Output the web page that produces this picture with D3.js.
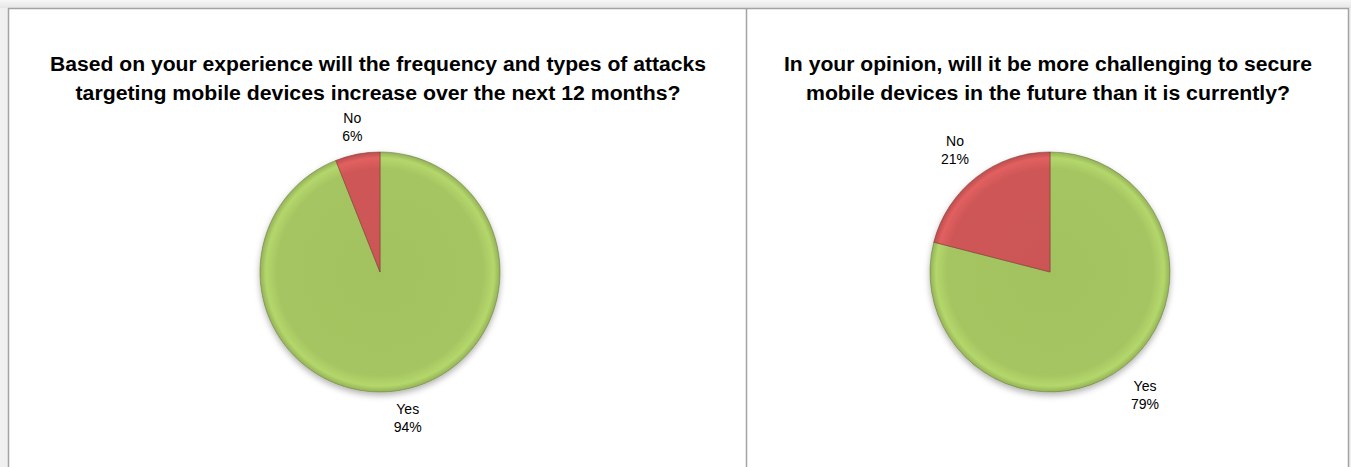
<!DOCTYPE html>
<html>
<head>
<meta charset="utf-8">
<script src="https://cdn.jsdelivr.net/npm/d3@7"></script>
<style>
  html, body { margin: 0; padding: 0; background: #f0f0f0; }
  svg { display: block; }
</style>
</head>
<body>
<div id="vis-holder"></div>
<script>
// Chart data
const categories = ["Yes", "No"];
const leftValues = [94, 6];
const rightValues = [79, 21];
const leftTitle = ["Based on your experience will  the frequency and types of attacks",
                   "targeting mobile devices increase over the next 12 months?"];
const rightTitle = ["In your opinion, will it be more challenging to secure",
                    "mobile devices in the future than it is currently?"];

// Size
const width = 1351;
const height = 467;

const svg = d3.select("#vis-holder")
              .append("svg")
              .attr("width", width)
              .attr("height", height);

const defs = svg.append("defs");

// Grey frame around the sheet
const bg = defs.append("linearGradient").attr("id", "topfade").attr("x1", 0).attr("y1", 0).attr("x2", 0).attr("y2", 1);
bg.append("stop").attr("offset", 0).attr("stop-color", "#f7f7f7");
bg.append("stop").attr("offset", 1).attr("stop-color", "#e6e6e6");
svg.append("rect").attr("x", 0).attr("y", 0).attr("width", width).attr("height", 8).attr("fill", "url(#topfade)");

// Panels (white) with grey borders
svg.append("rect").attr("x", 8).attr("y", 8).attr("width", 1340).attr("height", height)
   .attr("fill", "#fff");
svg.append("path")
   .attr("d", `M8.5,${height} V8.5 H1348.5 V${height} M746.5,8.5 V${height}`)
   .attr("fill", "none").attr("stroke", "#a3a3a3").attr("stroke-width", 1.5);

// Drop shadow under pies
const shadow = defs.append("filter").attr("id", "shadow")
                   .attr("x", "-20%").attr("y", "-20%").attr("width", "140%").attr("height", "140%");
shadow.append("feDropShadow").attr("dx", 0).attr("dy", 3).attr("stdDeviation", 3)
      .attr("flood-color", "#000").attr("flood-opacity", 0.3);

const color = d3.scaleOrdinal()
                .domain(categories)
                .range(["#a5c562", "#cf5757"]);

const radius = 120;

function drawPie(id, cx, cy, values, title, titleCx, titleWidths, labelR) {
  const data = categories.map((c, i) => ({ name: c, value: values[i] }));
  const g = svg.append("g").attr("transform", `translate(${cx},${cy})`);

  // bevel-like gradient per category
  categories.forEach((c) => {
    const base = d3.color(color(c));
    const grad = defs.append("radialGradient")
                     .attr("id", `${id}-${c}`)
                     .attr("gradientUnits", "userSpaceOnUse")
                     .attr("cx", 0).attr("cy", 0).attr("r", radius);
    grad.append("stop").attr("offset", 0).attr("stop-color", base.darker(0.05));
    grad.append("stop").attr("offset", 0.86).attr("stop-color", base);
    grad.append("stop").attr("offset", 0.95).attr("stop-color", base.brighter(0.25));
    grad.append("stop").attr("offset", 1).attr("stop-color", base.darker(0.3));
  });

  const pie = d3.pie().sort(null).value((d) => d.value);
  const arc = d3.arc().innerRadius(0).outerRadius(radius);
  const labelArc = d3.arc().innerRadius(labelR).outerRadius(labelR);
  const arcs = pie(data);

  g.append("g").attr("filter", "url(#shadow)")
   .selectAll("path")
   .data(arcs)
   .enter()
     .append("path")
     .attr("d", arc)
     .attr("fill", (d) => `url(#${id}-${d.data.name})`)
     .attr("stroke", (d) => d3.color(color(d.data.name)).darker(1.2))
     .attr("stroke-width", 0.6);

  const lbl = g.selectAll("text.lbl")
               .data(arcs)
               .enter()
                 .append("text")
                 .attr("class", "lbl")
                 .attr("transform", (d) => `translate(${labelArc.centroid(d)})`)
                 .attr("text-anchor", "middle")
                 .attr("font-family", "Liberation Sans, Arial, sans-serif")
                 .attr("font-size", "14px")
                 .attr("fill", "#000");
  lbl.append("tspan").attr("x", 0).attr("dy", "-0.25em").text((d) => d.data.name);
  lbl.append("tspan").attr("x", 0).attr("dy", "1.3em").text((d) => d.data.value + "%");

  // Title (condensed to the width of the original Calibri lines)
  title.forEach((line, i) => {
    svg.append("text")
       .attr("x", titleCx)
       .attr("y", 71 + i * 29)
       .attr("text-anchor", "middle")
       .attr("font-family", "Liberation Sans, Arial, sans-serif")
       .attr("font-weight", "bold")
       .attr("font-size", "20px")
       .attr("textLength", titleWidths[i])
       .attr("lengthAdjust", "spacingAndGlyphs")
       .attr("fill", "#000")
       .text(line);
  });
}

drawPie("left", 380, 272, leftValues, leftTitle, 378, [656, 605], 148);
drawPie("right", 1050, 272, rightValues, rightTitle, 1048, [528, 484], 155);
</script>
</body>
</html>
